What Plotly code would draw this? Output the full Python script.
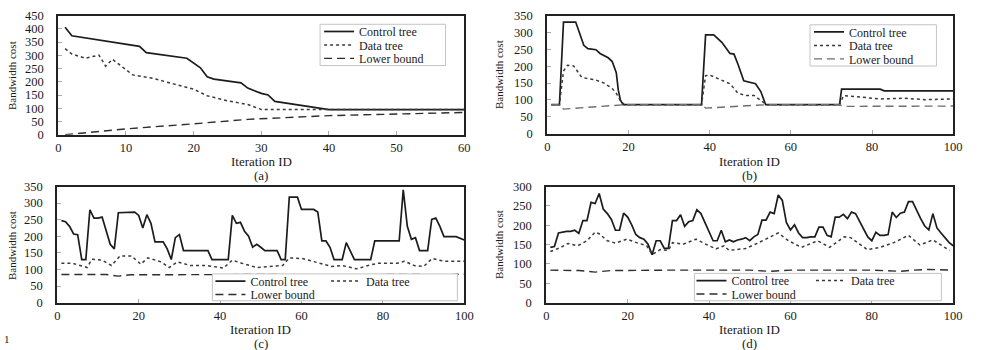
import plotly.graph_objects as go

W, H = 981, 350

# ---------------- data ----------------
# (a)
a_ctrl_x = [1, 2, 12, 13, 19, 21, 22, 23, 27, 28, 30, 31, 32, 40, 60]
a_ctrl_y = [406, 374, 334, 310, 289, 253, 219, 210, 196, 176, 156, 150, 126, 95, 95]
a_data_x = [1, 2, 4, 6, 7, 8, 11, 14, 17, 20, 22, 25, 28, 30, 40, 60]
a_data_y = [325, 305, 289, 301, 259, 285, 226, 213, 192, 172, 147, 128, 114, 95, 95, 95]
a_low_x = [1, 10, 20, 28, 40, 50, 60]
a_low_y = [0, 22, 41, 58, 72, 79, 84]

# (b)
b_ctrl_x = [1, 3, 4, 7, 9, 10, 12, 13, 15, 16, 17, 17.5, 18, 18.7, 38, 39, 41, 43, 45, 46, 47, 48.4, 51.3, 52.6, 53.8, 72, 72.5, 82, 83, 100]
b_ctrl_y = [86, 86, 331, 331, 262, 252, 249, 238, 225, 214, 181, 129, 100, 86, 86, 293, 293, 271, 238, 236, 205, 157, 148, 125, 86, 86, 132, 132, 127, 127]
b_data_x = [1, 3, 4, 5, 6.5, 8.5, 12, 14, 16, 17, 18, 19, 38, 39, 40, 43, 45, 47, 49, 51, 52.5, 54, 72, 73, 76, 82, 88, 93, 100]
b_data_y = [86, 86, 186, 203, 201, 167, 159, 150, 134, 120, 98, 86, 86, 172, 174, 159, 148, 120, 113, 113, 100, 86, 86, 113, 110, 103, 105, 101, 103]
b_low_x = [1, 3, 4, 19, 38, 39, 54, 72, 73, 100]
b_low_y = [86, 86, 73, 86, 86, 76, 86, 86, 81, 82]

# (c)
c_ctrl_x = [1, 2, 3, 4, 5, 6, 7, 8, 9, 10, 11, 12, 13, 14, 15, 19, 20, 21, 22, 23, 24, 26, 27, 28, 29, 30, 31, 37, 38, 42, 43,
            44, 45, 46, 47, 48, 49, 50, 51, 54, 55, 56, 57, 59, 60, 63, 64, 65, 66, 67, 68, 70, 71, 73, 77, 78, 84, 85, 86,
            87, 88, 89, 91, 92, 93, 94, 95, 98, 100]
c_ctrl_y = [247, 244, 230, 207, 205, 130, 130, 280, 255, 255, 258, 220, 176, 162, 271, 273, 263, 225, 265, 239, 183, 183, 162, 130, 196, 205, 157, 157, 130, 130, 263,
            239, 242, 215, 200, 167, 176, 167, 157, 157, 130, 130, 318, 318, 281, 281, 273, 186, 186, 167, 130, 130, 181, 130, 130, 186, 186, 340, 230,
            191, 196, 157, 157, 251, 255, 230, 199, 199, 189]
c_data_x = [1, 3.6, 6.5, 7.3, 8.5, 11, 13.3, 15.4, 18.2, 20.5, 22.2, 25.5, 27.5, 29.5, 32.7, 36.8, 40.8, 43, 45.3, 49, 55.4, 57, 60.2,
            63.4, 67.5, 70, 73.5, 76.4, 78.8, 83.6, 85.3, 87.7, 90, 92.1, 95, 100]
c_data_y = [119, 119, 109, 106, 131, 128, 112, 141, 141, 116, 135, 123, 106, 123, 112, 112, 104, 128, 119, 106, 112, 135, 133,
            123, 109, 112, 102, 112, 119, 119, 125, 112, 109, 133, 125, 125]
c_low_x = [1, 12, 15, 18, 54, 57, 60, 89, 92, 95, 100]
c_low_y = [85, 85, 80, 84, 85, 79, 84, 85, 79, 84, 86]

# (d)
d_ctrl_x = list(range(1, 101))
d_ctrl_y = [143, 145, 180, 182, 184, 184, 187, 179, 212, 212, 259, 256, 282, 242, 230, 215, 187, 187, 231, 221,
            201, 176, 168, 164, 151, 124, 160, 160, 140, 140, 212, 212, 227, 197, 209, 212, 240, 230, 205, 180,
            160, 160, 187, 157, 162, 157, 162, 164, 168, 160, 170, 176, 213, 213, 234, 230, 278, 264, 207, 188,
            201, 180, 168, 168, 170, 170, 195, 195, 174, 170, 221, 221, 228, 217, 234, 230, 209, 188, 170, 160,
            182, 174, 174, 176, 234, 220, 231, 234, 261, 261, 238, 217, 198, 188, 230, 193, 180, 168, 155, 147]
d_data_x = [1, 3.6, 5.3, 7.7, 10, 11, 12, 13, 15, 17, 19.8, 22.2, 24.7, 26, 28, 30, 31, 33.6, 36.8, 39.2, 41.7, 43.7, 44.9,
            49, 52, 57, 59.5, 62.7, 66.7, 69.6, 73.2, 74.8, 78.9, 82.1, 85.4, 89, 91.8, 95, 99.1]
d_data_y = [132, 143, 153, 147, 160, 172, 182, 178, 160, 154, 164, 155, 147, 124, 137, 135, 155, 151, 164, 151, 139, 147, 135,
            140, 154, 180, 160, 143, 160, 143, 170, 168, 137, 143, 155, 174, 149, 162, 135]
d_low_x = [1, 8, 12, 16, 30, 50, 55, 60, 80, 87, 90, 94, 100]
d_low_y = [84, 83, 79, 83, 84, 84, 81, 84, 84, 81, 84, 86, 84]

series_names = ["Control tree", "Data tree", "Lower bound"]
panel_labels = ["(a)", "(b)", "(c)", "(d)"]

# ---------------- styling helpers ----------------
FONT = "Liberation Serif"
INK = "#1a1a1a"


def px(x):
    return x / W


def py(y):
    return 1 - y / H


ctrl_style = dict(color="#1c1c1c", width=1.7)
data_style = dict(color="#3a3a3a", width=1.5, dash="dot")
low_style = dict(color="#2e2e2e", width=1.4, dash="8px,5px")
low_style_b = dict(color="#6e6e6e", width=1.4, dash="8px,5px")

fig = go.Figure()

panels = [
    ("x", "y", (a_ctrl_x, a_ctrl_y), (a_data_x, a_data_y), (a_low_x, a_low_y), low_style, ["legend", "legend2", "legend3"]),
    ("x2", "y2", (b_ctrl_x, b_ctrl_y), (b_data_x, b_data_y), (b_low_x, b_low_y), low_style_b, ["legend4", "legend5", "legend6"]),
    ("x3", "y3", (c_ctrl_x, c_ctrl_y), (c_data_x, c_data_y), (c_low_x, c_low_y), low_style, ["legend7", "legend8", "legend9"]),
    ("x4", "y4", (d_ctrl_x, d_ctrl_y), (d_data_x, d_data_y), (d_low_x, d_low_y), low_style, ["legend10", "legend11", "legend12"]),
]

for xa, ya, ctrl, data, low, lstyle, legs in panels:
    fig.add_trace(go.Scatter(x=ctrl[0], y=ctrl[1], mode="lines", name=series_names[0], showlegend=True,
                             line=ctrl_style, xaxis=xa, yaxis=ya, legend=legs[0]))
    fig.add_trace(go.Scatter(x=data[0], y=data[1], mode="lines", name=series_names[1], showlegend=True,
                             line=data_style, xaxis=xa, yaxis=ya, legend=legs[1]))
    fig.add_trace(go.Scatter(x=low[0], y=low[1], mode="lines", name=series_names[2], showlegend=True,
                             line=lstyle, xaxis=xa, yaxis=ya, legend=legs[2]))

axis_common = dict(showgrid=False, zeroline=False, showline=True, mirror=True,
                   linecolor="#222", linewidth=2, ticks="inside", ticklen=4,
                   tickcolor="#aaaaaa", tickwidth=1,
                   tickfont=dict(family=FONT, size=12.5, color=INK))

layout = dict(
    width=W, height=H, margin=dict(l=0, r=0, t=0, b=0),
    paper_bgcolor="white", plot_bgcolor="white",
    font=dict(family=FONT, color=INK),
    showlegend=True,
)

layout["xaxis"] = dict(axis_common, domain=[px(56), px(467)], range=[0, 60], dtick=10, anchor="y", ticklabelstandoff=0)
layout["yaxis"] = dict(axis_common, domain=[py(133), py(9)], range=[0, 450], dtick=50, anchor="x", ticklabelstandoff=10)
layout["xaxis2"] = dict(axis_common, domain=[px(551), px(962)], range=[0, 100], dtick=20, anchor="y2", ticklabelstandoff=0)
layout["yaxis2"] = dict(axis_common, domain=[py(132), py(9)], range=[0, 350], dtick=50, anchor="x2", ticklabelstandoff=10)
layout["xaxis3"] = dict(axis_common, domain=[px(55), px(467)], range=[0, 100], dtick=20, anchor="y3", ticklabelstandoff=0)
layout["yaxis3"] = dict(axis_common, domain=[py(308), py(187)], range=[0, 350], dtick=50, anchor="x3", ticklabelstandoff=10)
layout["xaxis4"] = dict(axis_common, domain=[px(550), px(962)], range=[0, 100], dtick=20, anchor="y4", ticklabelstandoff=0)
layout["yaxis4"] = dict(axis_common, domain=[py(308), py(187)], range=[0, 300], dtick=50, anchor="x4", ticklabelstandoff=10)

# legends: one per entry, positioned (left edge px, centre y px, font size)
leg_pos = {
    "legend": (320, 25.5, 12), "legend2": (320, 39.5, 12), "legend3": (320, 53.5, 12),
    "legend4": (816, 26.0, 12), "legend5": (816, 40.0, 12), "legend6": (816, 54.0, 12),
    "legend7": (210, 285.5, 12), "legend8": (327, 285.5, 12), "legend9": (210, 299.5, 12),
    "legend10": (697, 285.0, 12), "legend11": (818, 285.0, 12), "legend12": (697, 299.0, 12),
}
for name, (lx, ly, fs) in leg_pos.items():
    layout[name] = dict(x=px(lx), y=py(ly), xanchor="left", yanchor="middle",
                        bgcolor="rgba(0,0,0,0)", borderwidth=0, visible=True,
                        font=dict(family=FONT, size=fs, color=INK),
                        orientation="v", itemwidth=30)

# legend frames
boxes = [(321, 18, 448, 61), (817, 18.5, 945, 61.5), (212, 278, 460, 306), (700, 277.5, 950, 306)]
shapes = []
for x0, y0, x1, y1 in boxes:
    shapes.append(dict(type="rect", xref="paper", yref="paper",
                       x0=px(x0), x1=px(x1), y0=py(y1), y1=py(y0),
                       line=dict(color="#c4c4c4", width=1), fillcolor="white", layer="above"))
layout["shapes"] = shapes

ann = []


def add_text(text, x, y, size, angle=0):
    ann.append(dict(text=text, x=px(x), y=py(y), xref="paper", yref="paper",
                    xanchor="center", yanchor="middle", showarrow=False,
                    textangle=angle, font=dict(family=FONT, size=size, color=INK)))


for (cx, ty, ly), lab in zip([(261.5, 160.5, 175.5), (756, 160.5, 175.5), (261, 336, 351), (756, 336, 351)], panel_labels):
    add_text("Iteration ID", cx, ty, 13)
    add_text(lab, cx, ly, 13)

for (bx, by) in [(9, 71), (502, 70), (9, 248), (502, 247)]:
    add_text("Bandwidth cost", bx, by, 11, angle=-90)

add_text("1", 4, 346, 11)
layout["annotations"] = ann

fig.update_layout(**layout)
fig.write_html("out.html")
